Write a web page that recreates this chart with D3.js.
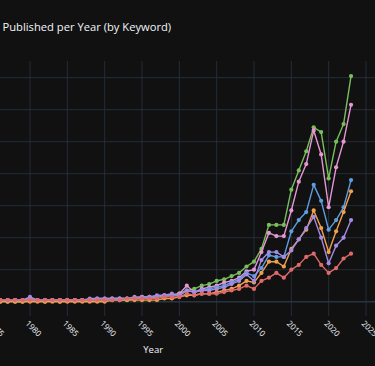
<!DOCTYPE html>
<html>
<head>
<meta charset="utf-8">
<script src="https://cdn.jsdelivr.net/npm/d3@7"></script>
<style>
  html, body { margin: 0; padding: 0; background: #111111; overflow: hidden; }
  svg { display: block; font-family: "Open Sans", "DejaVu Sans", sans-serif; }
</style>
</head>
<body>
<svg id="chart" width="375" height="366"></svg>
<script>
// years 1975 .. 2023
var years = d3.range(1975, 2024);

// counts per keyword
var greenVals  = [0,0,1,0,0,1,1,0,1,0,1,1,1,1,1,1,1,1,1,2,2,2,3,3,4,
                  5,7,8,10,11,13,14,16,18,22,
                  25,33,48,48,48,70,82,94,109,106,77,100,111,141];
var pinkVals   = [1,1,1,1,1,2,1,1,1,1,1,1,1,1,2,2,2,2,2,2,3,3,3,4,4,
                  5,10,6,8,9,10,12,13,15,19,
                  20,31,43,41,41,57,75,86,107,92,59,84,100,123];
var blueVals   = [0,1,0,1,1,1,1,1,1,1,1,1,1,1,1,1,2,2,2,2,2,3,3,4,4,
                  4,7,6,7,8,9,10,12,14,18,
                  16,21,29,28,28,44,51,56,73,63,45,51,59,76];
var orangeVals = [0,0,0,0,0,0,0,0,0,0,0,0,0,0,0,0,1,1,1,1,1,1,1,2,2,
                  3,4,4,5,5,6,7,8,10,13,
                  12,18,25,25,22,33,39,45,57,46,31,44,56,69];
var purpleVals = [1,1,1,1,1,3,1,1,1,1,1,1,1,2,2,2,2,2,2,3,3,3,4,4,5,
                  4,7,6,7,7,8,9,11,13,17,
                  13,26,31,31,28,32,39,46,53,40,24,35,40,51];
var redVals    = [1,1,1,1,1,1,1,1,1,1,1,1,1,1,1,1,1,1,2,2,2,2,2,3,3,
                  3,5,4,5,5,5,6,7,8,10,
                  8,13,15,18,15,20,23,28,30,23,18,21,27,30];

var xTicks = d3.range(1975, 2030, 5);
var yTicks = d3.range(0, 160, 20);

var series = [
  { name: "green",  color: "#78bf5c", values: greenVals },
  { name: "pink",   color: "#e796d4", values: pinkVals },
  { name: "blue",   color: "#5e9ee0", values: blueVals },
  { name: "orange", color: "#f0a04c", values: orangeVals },
  { name: "purple", color: "#a68be4", values: purpleVals },
  { name: "red",    color: "#e06a6a", values: redVals }
];

var svg = d3.select("#chart");
var W = 375, H = 366;

svg.append("rect").attr("width", W).attr("height", H).attr("fill", "#111111");

// plot area runs off the left and right edge of the picture
var x = d3.scaleLinear().domain([1966, 2027]).range([-74.5, 380.9]);
var y = d3.scaleLinear().domain([-8.94, 150.4]).range([316, 61]);

var grid = svg.append("g");

grid.selectAll(".vgrid").data(xTicks).enter()
    .append("line")
    .attr("class", "vgrid")
    .attr("x1", function(d){ return x(d); })
    .attr("x2", function(d){ return x(d); })
    .attr("y1", y.range()[1])
    .attr("y2", y.range()[0])
    .attr("stroke", "#283442")
    .attr("stroke-width", 0.8);

grid.selectAll(".hgrid").data(yTicks).enter()
    .append("line")
    .attr("class", "hgrid")
    .attr("x1", x.range()[0])
    .attr("x2", x.range()[1])
    .attr("y1", function(d){ return y(d); })
    .attr("y2", function(d){ return y(d); })
    .attr("stroke", "#283442")
    .attr("stroke-width", function(d){ return d == 0 ? 1.6 : 0.8; });

var line = d3.line()
    .x(function(d, i){ return x(years[i]); })
    .y(function(d){ return y(d); });

var plot = svg.append("g");

series.forEach(function(s) {
  var g = plot.append("g").attr("class", "series-" + s.name);
  g.append("path")
   .datum(s.values)
   .attr("d", line)
   .attr("fill", "none")
   .attr("stroke", s.color)
   .attr("stroke-width", 1.4)
   .attr("stroke-linejoin", "round");
  g.selectAll("circle").data(s.values).enter()
   .append("circle")
   .attr("cx", function(d, i){ return x(years[i]); })
   .attr("cy", function(d){ return y(d); })
   .attr("r", 2.1)
   .attr("fill", s.color);
});

// x tick labels, rotated
svg.append("g").selectAll("text").data(xTicks).enter()
   .append("text")
   .attr("transform", function(d){ return "translate(" + (x(d) - 3) + ",322) rotate(45)"; })
   .attr("text-anchor", "start")
   .attr("dy", "0.35em")
   .attr("fill", "#f2f5fa")
   .style("font-size", "8px")
   .text(function(d){ return d; });

svg.append("text")
   .attr("x", (x.range()[0] + x.range()[1]) / 2)
   .attr("y", 353)
   .attr("text-anchor", "middle")
   .attr("fill", "#f2f5fa")
   .style("font-size", "9.5px")
   .text("Year");

svg.append("text")
   .attr("x", 2.5)
   .attr("y", 30.5)
   .attr("fill", "#f2f5fa")
   .style("font-size", "11.2px")
   .text("Published per Year (by Keyword)");
</script>
</body>
</html>
